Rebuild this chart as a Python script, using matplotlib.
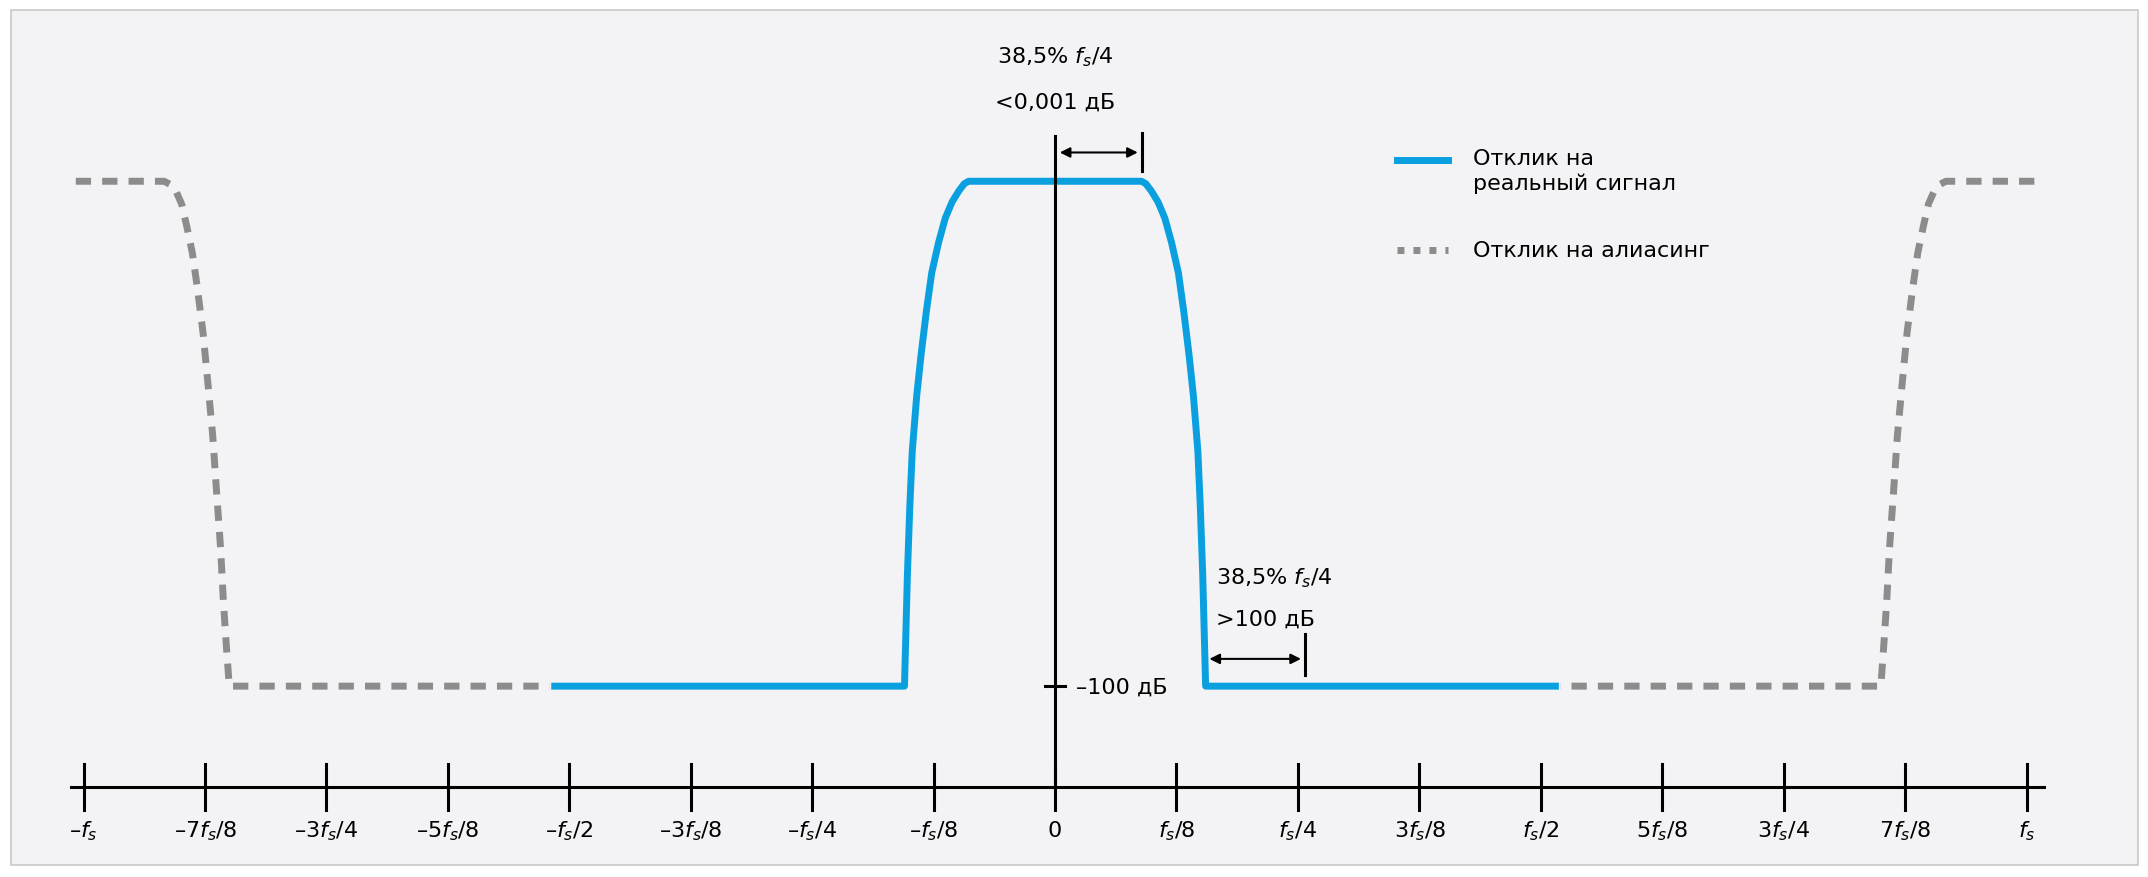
import matplotlib.pyplot as plt
from matplotlib.patches import Rectangle

plt.rcParams['font.family'] = ['Liberation Sans Narrow', 'DejaVu Sans']
plt.rcParams['mathtext.fontset'] = 'custom'
plt.rcParams['mathtext.rm'] = 'Liberation Sans Narrow'
plt.rcParams['mathtext.it'] = 'Liberation Sans Narrow:italic'

# частота в долях fs, уровень в дБ (левый фронт синей кривой)
edge_x = [-0.155, -0.1535, -0.152, -0.1495, -0.147, -0.1425, -0.138, -0.1325,
          -0.127, -0.120, -0.113, -0.106, -0.099, -0.0935, -0.089]
edge_y = [-100, -89, -78, -64.4, -53.5, -42.7, -34.5, -25.8,
          -18.2, -12.2, -7.3, -4.1, -1.9, -0.5, 0]

blue_x = [-0.515] + edge_x + [-v for v in edge_x[::-1]] + [0.515]
blue_y = [-100] + edge_y + edge_y[::-1] + [-100]

grey_left_x = [-1.008, -0.917, -0.911, -0.905, -0.899, -0.894, -0.888, -0.883,
               -0.877, -0.872, -0.867, -0.863, -0.859, -0.856, -0.853, -0.850, -0.52]
grey_left_y = [0, 0, -0.6, -1.9, -4.5, -8.7, -14.2, -20.9,
               -30, -40, -50.5, -61.7, -72.5, -83.4, -92, -100, -100]
grey_right_x = [-v for v in grey_left_x]
grey_right_y = grey_left_y

tick_pos = [k / 8 for k in range(-8, 9)]
tick_labels = ['–$f_s$', '–7$f_s$/8', '–3$f_s$/4', '–5$f_s$/8', '–$f_s$/2', '–3$f_s$/8',
               '–$f_s$/4', '–$f_s$/8', '0', '$f_s$/8', '$f_s$/4', '3$f_s$/8', '$f_s$/2',
               '5$f_s$/8', '3$f_s$/4', '7$f_s$/8', '$f_s$']

BLUE = '#0aa0e0'
GREY = '#8c8c8c'
FS = 16

fig = plt.figure(figsize=(21.48, 8.78), dpi=100)
ax = fig.add_axes([0, 0, 1, 1])
ax.set_xlim(-1.086, 1.125)
ax.set_ylim(-137.8, 36.1)
ax.axis('off')

ax.add_patch(Rectangle((-1.075, -135.5), 2.19, 169.5, facecolor='#f3f3f5',
                       edgecolor='#c8c8c8', lw=1.2, zorder=0))

ax.plot(grey_left_x, grey_left_y, color=GREY, lw=5, ls=(0, (2.2, 1.6)), zorder=2)
ax.plot(grey_right_x, grey_right_y, color=GREY, lw=5, ls=(0, (2.2, 1.6)), zorder=2)
ax.plot(blue_x, blue_y, color=BLUE, lw=5, solid_joinstyle='round', zorder=3)

# оси
ax.plot([-1.013, 1.018], [-120, -120], color='black', lw=2.2, zorder=4)
for p, lab in zip(tick_pos, tick_labels):
    ax.plot([p, p], [-115.5, -124.5], color='black', lw=2.2, zorder=4)
    ax.text(p, -128.5, lab, ha='center', va='center', fontsize=FS)
ax.plot([0, 0], [9, -120], color='black', lw=2.2, zorder=4)
ax.plot([-0.01, 0.01], [-100, -100], color='black', lw=2.2, zorder=4)
ax.text(0.022, -100, '–100 дБ', ha='left', va='center', fontsize=FS)

# аннотации
ax.text(0, 24.7, '38,5% $f_s$/4', ha='center', va='center', fontsize=FS)
ax.text(0, 15.8, '<0,001 дБ', ha='center', va='center', fontsize=FS)
ax.annotate('', xy=(0.088, 5.7), xytext=(0.002, 5.7),
            arrowprops=dict(arrowstyle='<|-|>', color='black', lw=1.5, mutation_scale=15))
ax.plot([0.089, 0.089], [9.5, 2], color='black', lw=2.2)

ax.text(0.166, -78.5, '38,5% $f_s$/4', ha='left', va='center', fontsize=FS)
ax.text(0.166, -86.7, '>100 дБ', ha='left', va='center', fontsize=FS)
ax.annotate('', xy=(0.256, -94.6), xytext=(0.156, -94.6),
            arrowprops=dict(arrowstyle='<|-|>', color='black', lw=1.5, mutation_scale=15))
ax.plot([0.257, 0.257], [-89.7, -97.8], color='black', lw=2.2)

# легенда
ax.plot([0.352, 0.404], [4.3, 4.3], color=BLUE, lw=5)
ax.text(0.430, 6.5, 'Отклик на\nреальный сигнал', ha='left', va='top', fontsize=FS,
        linespacing=1.25)
ax.plot([0.352, 0.404], [-13.6, -13.6], color=GREY, lw=5, ls=(0, (1, 1.3)))
ax.text(0.430, -13.6, 'Отклик на алиасинг', ha='left', va='center', fontsize=FS)

fig.savefig('out.png', dpi=100)
